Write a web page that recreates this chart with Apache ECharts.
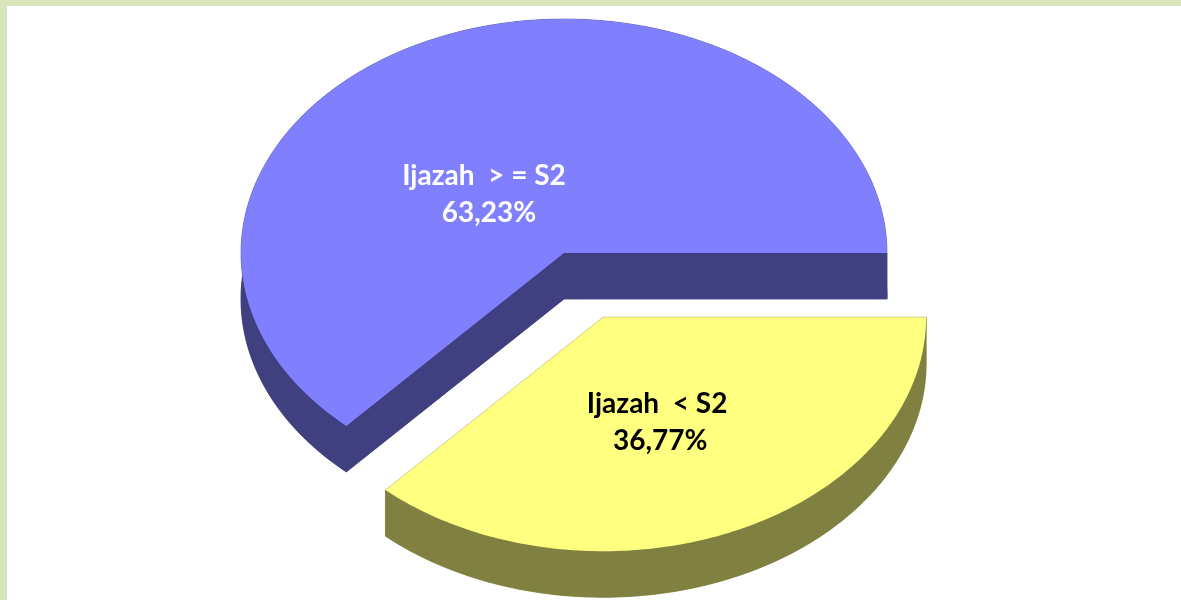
<!DOCTYPE html>
<html>
<head>
<meta charset="utf-8">
<script src="https://cdn.jsdelivr.net/npm/echarts@6/dist/echarts.min.js"></script>
<style>
  html, body { margin: 0; padding: 0; background: #fff; }
  #chart { width: 1181px; height: 600px; }
</style>
</head>
<body>
<div id="chart"></div>
<script>
// data
const categories = ['Ijazah  > = S2', 'Ijazah  < S2'];
const shares = [63.23, 36.77];
const topColors = ['#8080FF', '#FFFF80'];
const sideColors = ['#404080', '#808040'];
const labelColors = ['#FFFFFF', '#000000'];

// layout of the tilted pie (pixels)
const pie = { cx: 564, cy: 253, rx: 323, ry: 234, depth: 46 };
const explode = [0, 0.3];
// label line centres relative to slice apex
const labelOffsets = [
  [[-80, -77], [-75, -40]],
  [[54, 87], [57, 124]]
];

const total = shares.reduce((a, b) => a + b, 0);
const starts = [];
let acc = 0;
shares.forEach(v => { starts.push(acc); acc += v; });

function pct (v) {
  return (v / total * 100).toFixed(2).replace('.', ',') + '%';
}

function renderSlice (params, api) {
  const i = params.dataIndex;
  const v = api.value(0);
  const a0 = starts[i] / total * Math.PI * 2;
  const a1 = (starts[i] + v) / total * Math.PI * 2;
  const mid = (a0 + a1) / 2;
  const ox = pie.cx + explode[i] * pie.rx * Math.cos(mid);
  const oy = pie.cy - explode[i] * pie.ry * Math.sin(mid);
  const d = pie.depth;
  const steps = 160;
  const arc = [];
  for (let k = 0; k <= steps; k++) {
    const a = a0 + (a1 - a0) * k / steps;
    arc.push([ox + pie.rx * Math.cos(a), oy - pie.ry * Math.sin(a)]);
  }
  const down = p => [p[0], p[1] + d];
  const arcDown = arc.map(down);
  const first = arc[0];
  const last = arc[arc.length - 1];
  const apex = [ox, oy];
  const side = { fill: sideColors[i], stroke: sideColors[i], lineWidth: 0.5 };
  const children = [
    { type: 'polygon', shape: { points: [down(apex)].concat(arcDown) }, style: side },
    { type: 'polygon', shape: { points: arc.concat(arcDown.slice().reverse()) }, style: side },
    { type: 'polygon', shape: { points: [apex, first, down(first), down(apex)] }, style: side },
    { type: 'polygon', shape: { points: [apex, last, down(last), down(apex)] }, style: side },
    { type: 'polygon', shape: { points: [apex].concat(arc) }, style: { fill: topColors[i] } }
  ];
  const texts = [categories[i], pct(v)];
  texts.forEach((t, j) => {
    children.push({
      type: 'text',
      style: {
        text: t,
        x: ox + labelOffsets[i][j][0],
        y: oy + labelOffsets[i][j][1],
        fill: labelColors[i],
        font: 'bold 28px Lato, "Open Sans", sans-serif',
        align: 'center',
        verticalAlign: 'middle'
      }
    });
  });
  return { type: 'group', children: children };
}

const chart = echarts.init(document.getElementById('chart'), null, { renderer: 'canvas' });
chart.setOption({
  animation: false,
  graphic: [
    { type: 'rect', shape: { x: 0, y: 0, width: 1181, height: 6 }, style: { fill: '#D8E4BC' } },
    { type: 'rect', shape: { x: 0, y: 0, width: 7, height: 600 }, style: { fill: '#D8E4BC' } }
  ],
  series: [{
    type: 'custom',
    coordinateSystem: 'none',
    renderItem: renderSlice,
    data: shares.map(v => [v])
  }]
});
</script>
</body>
</html>
